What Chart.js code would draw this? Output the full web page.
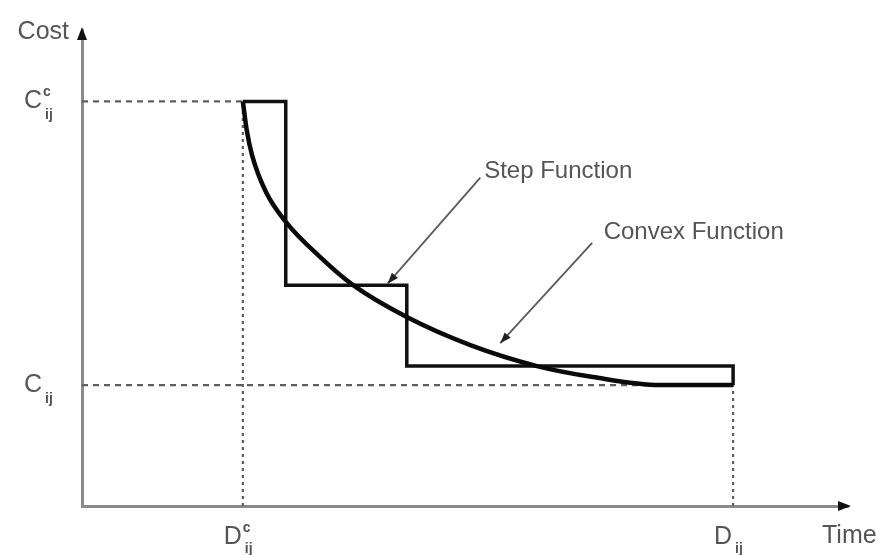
<!DOCTYPE html>
<html>
<head>
<meta charset="utf-8">
<script src="https://cdn.jsdelivr.net/npm/chart.js@4.4.1/dist/chart.umd.min.js"></script>
<style>
  html, body { margin: 0; padding: 0; background: #fff; }
  #wrap { width: 884px; height: 555px; }
</style>
</head>
<body>
<div id="wrap"><canvas id="costChart"></canvas></div>
<script>
// eixos: Time (x) e Cost (y), de 0 a 100
const timeTicks = [21, 85];          // D^c_ij, D_ij
const timeTickBase = ['D', 'D'];
const timeTickSup = ['c', ''];
const costTicks = [25.4, 85];        // C_ij, C^c_ij
const costTickBase = ['C', 'C'];
const costTickSup = ['', 'c'];

// função degrau
const stepTime = [21, 26.6, 26.6, 42.4, 42.4, 85, 85];
const stepCost = [85, 85, 46.4, 46.4, 29.4, 29.4, 25.4];

// função convexa
const convexTime = [21, 21.5, 22.2, 24.0, 26.6, 31.1, 35.4, 42.4, 50.7, 59.4, 66.7, 75.5, 85];
const convexCost = [85, 79.0, 73.7, 66.0, 59.7, 52.3, 46.4, 39.7, 33.8, 29.4, 27.1, 25.4, 25.4];

// anotações (texto + seta)
const noteText = ['Step Function', 'Convex Function'];
const noteAt = [[52.5, 70.2], [68.1, 57.4]];
const noteArrowFrom = [[52.0, 69.0], [66.6, 55.3]];
const noteArrowTo = [[39.9, 46.7], [54.6, 34.2]];

const pts = (xs, ys) => xs.map((x, i) => ({ x: x, y: ys[i] }));

const guideStyle = {
    borderColor: '#5e5e5e',
    borderWidth: 2.2,
    pointRadius: 0,
    fill: false,
    tension: 0
};

const chartDecor = {
    id: 'chartDecor',
    afterDraw(chart) {
        const ctx = chart.ctx;
        const xs = chart.scales.x;
        const ys = chart.scales.y;
        const area = chart.chartArea;
        ctx.save();

        // setas dos eixos
        ctx.fillStyle = '#111';
        ctx.beginPath();
        ctx.moveTo(area.left, area.top - 3);
        ctx.lineTo(area.left - 5, area.top + 10);
        ctx.lineTo(area.left + 5, area.top + 10);
        ctx.closePath();
        ctx.fill();
        ctx.beginPath();
        ctx.moveTo(area.right + 3, area.bottom);
        ctx.lineTo(area.right - 10, area.bottom - 5);
        ctx.lineTo(area.right - 10, area.bottom + 5);
        ctx.closePath();
        ctx.fill();

        // títulos dos eixos
        ctx.fillStyle = '#555';
        ctx.font = '25px "Liberation Sans", Arial, sans-serif';
        ctx.textBaseline = 'middle';
        ctx.textAlign = 'right';
        ctx.fillText('Cost', area.left - 13, area.top + 2);
        ctx.textAlign = 'left';
        ctx.fillText('Time', area.right - 26, area.bottom + 30);

        // rótulos com índice
        const drawLabel = (base, sup, px, py, dy) => {
            ctx.font = '25px "Liberation Sans", Arial, sans-serif';
            ctx.textAlign = 'right';
            ctx.textBaseline = 'middle';
            ctx.fillText(base, px, py);
            ctx.font = 'bold 14px "Liberation Sans", Arial, sans-serif';
            ctx.textAlign = 'left';
            if (sup) ctx.fillText(sup, px + 1, py - 9);
            ctx.fillText('ij', px + 3, py + dy);
        };
        costTicks.forEach((v, i) => {
            drawLabel(costTickBase[i], costTickSup[i], area.left - 40, ys.getPixelForValue(v), 14);
        });
        timeTicks.forEach((v, i) => {
            drawLabel(timeTickBase[i], timeTickSup[i], xs.getPixelForValue(v) - 1, area.bottom + 31, 12);
        });

        // anotações
        noteText.forEach((t, i) => {
            ctx.font = '24px "Liberation Sans", Arial, sans-serif';
            ctx.textAlign = 'left';
            ctx.textBaseline = 'middle';
            ctx.fillStyle = '#555';
            ctx.fillText(t, xs.getPixelForValue(noteAt[i][0]), ys.getPixelForValue(noteAt[i][1]));
            const x1 = xs.getPixelForValue(noteArrowFrom[i][0]);
            const y1 = ys.getPixelForValue(noteArrowFrom[i][1]);
            const x2 = xs.getPixelForValue(noteArrowTo[i][0]);
            const y2 = ys.getPixelForValue(noteArrowTo[i][1]);
            ctx.strokeStyle = '#5a5a5a';
            ctx.lineWidth = 1.8;
            ctx.beginPath();
            ctx.moveTo(x1, y1);
            ctx.lineTo(x2, y2);
            ctx.stroke();
            const a = Math.atan2(y2 - y1, x2 - x1);
            ctx.fillStyle = '#222';
            ctx.beginPath();
            ctx.moveTo(x2, y2);
            ctx.lineTo(x2 - 11 * Math.cos(a) + 4 * Math.sin(a), y2 - 11 * Math.sin(a) - 4 * Math.cos(a));
            ctx.lineTo(x2 - 11 * Math.cos(a) - 4 * Math.sin(a), y2 - 11 * Math.sin(a) + 4 * Math.cos(a));
            ctx.closePath();
            ctx.fill();
        });
        ctx.restore();
    }
};

new Chart(document.getElementById('costChart'), {
    type: 'line',
    data: {
        datasets: [
            {
                label: 'Convex Function',
                data: pts(convexTime, convexCost),
                borderColor: '#0a0a0a',
                borderWidth: 4.5,
                pointRadius: 0,
                cubicInterpolationMode: 'monotone',
                order: 1
            },
            {
                label: 'Step Function',
                data: pts(stepTime, stepCost),
                borderColor: '#111',
                borderWidth: 3.5,
                pointRadius: 0,
                tension: 0,
                order: 2
            },
            Object.assign({ data: [{ x: 0, y: costTicks[1] }, { x: timeTicks[0], y: costTicks[1] }], borderDash: [6, 5], order: 3 }, guideStyle),
            Object.assign({ data: [{ x: 0, y: costTicks[0] }, { x: timeTicks[1], y: costTicks[0] }], borderDash: [6, 5], order: 3 }, guideStyle),
            Object.assign({ data: [{ x: timeTicks[0], y: 0 }, { x: timeTicks[0], y: costTicks[1] }], borderDash: [3, 4], order: 3 }, guideStyle),
            Object.assign({ data: [{ x: timeTicks[1], y: 0 }, { x: timeTicks[1], y: costTicks[0] }], borderDash: [3, 4], order: 3 }, guideStyle)
        ]
    },
    options: {
        responsive: true,
        maintainAspectRatio: false,
        animation: false,
        layout: { padding: { left: 82, right: 36, top: 30, bottom: 49 } },
        plugins: {
            legend: { display: false },
            tooltip: { enabled: false }
        },
        scales: {
            x: {
                type: 'linear',
                min: 0,
                max: 100,
                ticks: { display: false },
                grid: { display: false, drawTicks: false },
                border: { display: true, color: '#8a8a8a', width: 3 }
            },
            y: {
                type: 'linear',
                min: 0,
                max: 100,
                ticks: { display: false },
                grid: { display: false, drawTicks: false },
                border: { display: true, color: '#8a8a8a', width: 3 }
            }
        }
    },
    plugins: [chartDecor]
});
</script>
</body>
</html>
